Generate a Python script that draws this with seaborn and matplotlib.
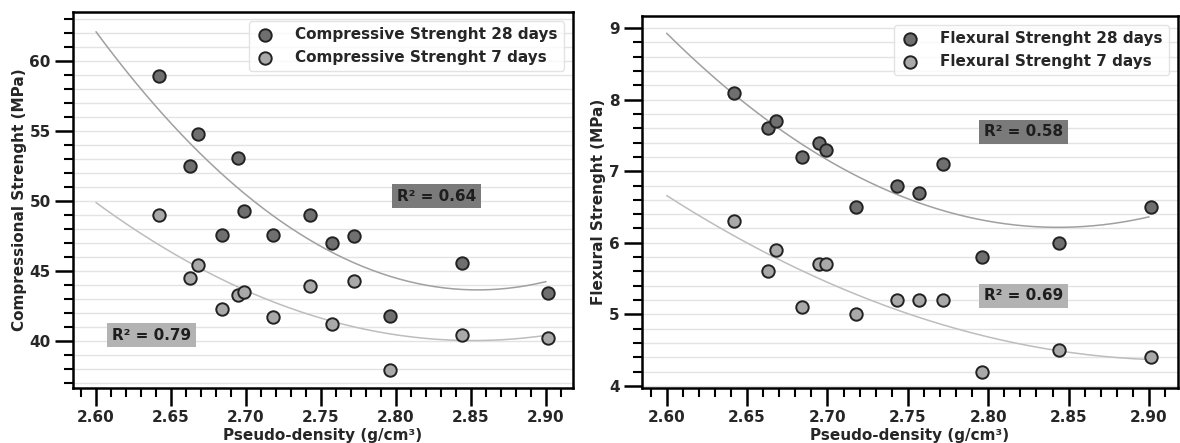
import numpy as np
import pandas as pd
import matplotlib
matplotlib.use('Agg')
import matplotlib.pyplot as plt
import seaborn as sns
from matplotlib.ticker import MultipleLocator

# pseudo-density of the mixes (g/cm3)
density = [2.642, 2.663, 2.668, 2.684, 2.695, 2.699, 2.718, 2.743, 2.757, 2.772, 2.796, 2.844, 2.901]

# compressive strength (MPa)
comp_28 = [58.9, 52.5, 54.8, 47.6, 53.1, 49.3, 47.6, 49.0, 47.0, 47.5, 41.8, 45.6, 43.4]
comp_7 = [49.0, 44.5, 45.4, 42.3, 43.3, 43.5, 41.7, 43.9, 41.2, 44.3, 37.9, 40.4, 40.2]

# flexural strength (MPa)
flex_28 = [8.1, 7.6, 7.7, 7.2, 7.4, 7.3, 6.5, 6.8, 6.7, 7.1, 5.8, 6.0, 6.5]
flex_7 = [6.3, 5.6, 5.9, 5.1, 5.7, 5.7, 5.0, 5.2, 5.2, 5.2, 4.2, 4.5, 4.4]

r2_labels = ['R² = 0.64', 'R² = 0.79', 'R² = 0.58', 'R² = 0.69']

df = pd.DataFrame({'density': density, 'comp_28': comp_28, 'comp_7': comp_7,
                   'flex_28': flex_28, 'flex_7': flex_7})

sns.set_style('ticks')
plt.rcParams['font.family'] = ['DejaVu Sans']
plt.rcParams['font.weight'] = 'bold'
plt.rcParams['axes.labelweight'] = 'bold'

dark = '#6f6f6f'
light = '#a9a9a9'

fig = plt.figure(figsize=(11.8, 4.43), dpi=100)
ax1 = fig.add_axes([0.0619, 0.1242, 0.4237, 0.8487])
ax2 = fig.add_axes([0.5441, 0.1242, 0.4542, 0.8397])

x_fit = np.linspace(2.60, 2.90, 200)


def panel(ax, col28, col7, name, ylab, ylim, ymajor, yminor, boxes):
    # quadratic trend lines fitted on the data
    for col, c in [(col28, '#a0a0a0'), (col7, '#bdbdbd')]:
        coef = np.polyfit(df['density'], df[col], 2)
        sns.lineplot(x=x_fit, y=np.polyval(coef, x_fit), ax=ax, color=c, lw=1.1, zorder=2)
    sns.scatterplot(data=df, x='density', y=col28, ax=ax, color=dark, edgecolor='#222222',
                    linewidth=1.4, s=80, label=name + ' 28 days', zorder=3)
    sns.scatterplot(data=df, x='density', y=col7, ax=ax, color=light, edgecolor='#222222',
                    linewidth=1.4, s=80, label=name + ' 7 days', zorder=3)

    ax.set_xlim(2.5847, 2.918)
    ax.set_ylim(*ylim)
    ax.xaxis.set_major_locator(MultipleLocator(0.05))
    ax.xaxis.set_minor_locator(MultipleLocator(0.01))
    ax.yaxis.set_major_locator(MultipleLocator(ymajor))
    ax.yaxis.set_minor_locator(MultipleLocator(yminor))
    ax.xaxis.set_major_formatter(plt.FormatStrFormatter('%.2f'))
    ax.tick_params(which='both', bottom=True, left=True, direction='out', color='black')
    ax.tick_params(which='major', length=13, width=1.8, labelsize=11, pad=3)
    ax.tick_params(which='minor', length=6.5, width=1.5)
    ax.grid(True, axis='y', which='both', color='#e3e3e3', lw=1.0)
    ax.set_axisbelow(True)
    for sp in ax.spines.values():
        sp.set_visible(True)
        sp.set_linewidth(1.8)
        sp.set_color('black')

    ax.set_xlabel('Pseudo-density (g/cm³)', fontsize=11, labelpad=2)
    ax.set_ylabel(ylab, fontsize=11, labelpad=2)

    for (bx, by, txt, bc) in boxes:
        ax.text(bx, by, txt, fontsize=11, fontweight='bold', color='#1e1e1e',
                ha='center', va='center', zorder=4,
                bbox=dict(boxstyle='square,pad=0.3', fc=bc, ec='none'))

    leg = ax.legend(loc='upper right', fontsize=11, handletextpad=1.4, handlelength=1.2,
                    borderaxespad=0.6, frameon=True)
    leg.get_frame().set_edgecolor('#dddddd')


panel(ax1, 'comp_28', 'comp_7', 'Compressive Strenght', 'Compressional Strenght (MPa)',
      (36.64, 63.5), 5, 1,
      [(2.827, 50.35, r2_labels[0], '#7a7a7a'), (2.637, 40.4, r2_labels[1], '#b3b3b3')])
panel(ax2, 'flex_28', 'flex_7', 'Flexural Strenght', 'Flexural Strenght (MPa)',
      (3.97, 9.17), 1, 0.2,
      [(2.822, 7.55, r2_labels[2], '#7a7a7a'), (2.822, 5.26, r2_labels[3], '#b3b3b3')])

plt.savefig('out.png', dpi=100)
